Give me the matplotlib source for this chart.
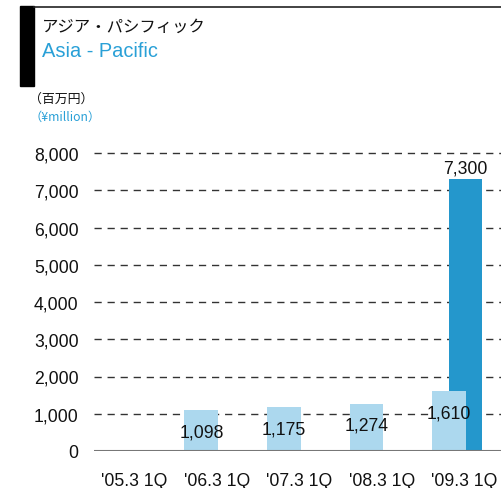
import numpy as np
import matplotlib
matplotlib.use("Agg")
import matplotlib.pyplot as plt

plt.rcParams['font.family'] = ['Liberation Sans', 'Noto Sans CJK JP', 'DejaVu Sans']
plt.rcParams['lines.scale_dashes'] = False

# data
categories = ["'05.3 1Q", "'06.3 1Q", "'07.3 1Q", "'08.3 1Q", "'09.3 1Q"]
first_q = [np.nan, 1098, 1175, 1274, 1610]
forecast = [np.nan, np.nan, np.nan, np.nan, 7300]
y_ticks = [0, 1000, 2000, 3000, 4000, 5000, 6000, 7000, 8000]

W, H = 501, 489
fig = plt.figure(figsize=(W / 100, H / 100), dpi=100)

def fx(px):
    return px / W

def fy(py):
    return 1 - py / H

# axes: left at 94px, zero at 452px, 8000 at 154px
ymax = 8300
ax_h = (452 - 154) / 8000 * ymax / H
ax = fig.add_axes([fx(94), fy(452), 1 - fx(94), ax_h])

x = np.arange(len(categories))
light_c = '#acd8ee'
dark_c = '#2497cc'
bw = 0.41

ax.bar(x + 0.2, forecast, width=bw, color=dark_c, zorder=2)
ax.bar(x, first_q, width=bw, color=light_c, zorder=3)

for xi, v in zip(x, first_q):
    if not np.isnan(v):
        ax.annotate(f"{v:,.0f}", (xi, v), xytext=(0, -15.5), textcoords='offset points',
                    ha='center', va='center', fontsize=12.7, color='#111', zorder=4)
for xi, v in zip(x, forecast):
    if not np.isnan(v):
        ax.annotate(f"{v:,.0f}", (xi + 0.2, v), xytext=(0, 2), textcoords='offset points',
                    ha='center', va='bottom', fontsize=12.7, color='#111', zorder=4)

ax.set_xlim(-0.30, 4.63)
ax.set_ylim(0, ymax)

# dashed grid
for t in y_ticks[1:]:
    ax.axhline(t, color='#333333', lw=1.0, dashes=(5.2, 4.2), zorder=1)
ax.axhline(0, color='#777777', lw=1.5, zorder=5)

ax.set_yticks(y_ticks)
ax.set_yticklabels([f"{t:,}" for t in y_ticks], fontsize=12.7, color='#111')
ax.set_xticks(x + 0.19)
ax.set_xticklabels(categories, fontsize=12.7, color='#111')
ax.tick_params(axis='both', length=0)
ax.tick_params(axis='y', pad=11)
ax.tick_params(axis='x', pad=15)
for s in ax.spines.values():
    s.set_visible(False)
ax.patch.set_alpha(0)

# header
fig.patches.append(plt.Rectangle((fx(20), fy(87)), fx(14), (87 - 7) / H,
                                 transform=fig.transFigure, color='black'))
fig.lines.append(plt.Line2D([fx(34), 1], [fy(7.5), fy(7.5)], transform=fig.transFigure,
                            color='#222222', lw=1.2))
fig.text(fx(42), fy(27.5), "アジア・パシフィック", fontsize=11.8, va='center', ha='left',
         family=['Noto Sans CJK JP', 'DejaVu Sans'], color='#111')
fig.text(fx(42), fy(51.5), "Asia - Pacific", fontsize=14.4, va='center', ha='left',
         color='#29a0d7')
fig.text(fx(29), fy(99), "（百万円）", fontsize=9.3, va='center', ha='left',
         family=['Noto Sans CJK JP', 'DejaVu Sans'], color='#111')
fig.text(fx(29), fy(117), "（¥million）", fontsize=8.8, va='center', ha='left',
         family=['Noto Sans CJK JP', 'DejaVu Sans'], color='#29a0d7')

fig.savefig("out.png", dpi=100)
